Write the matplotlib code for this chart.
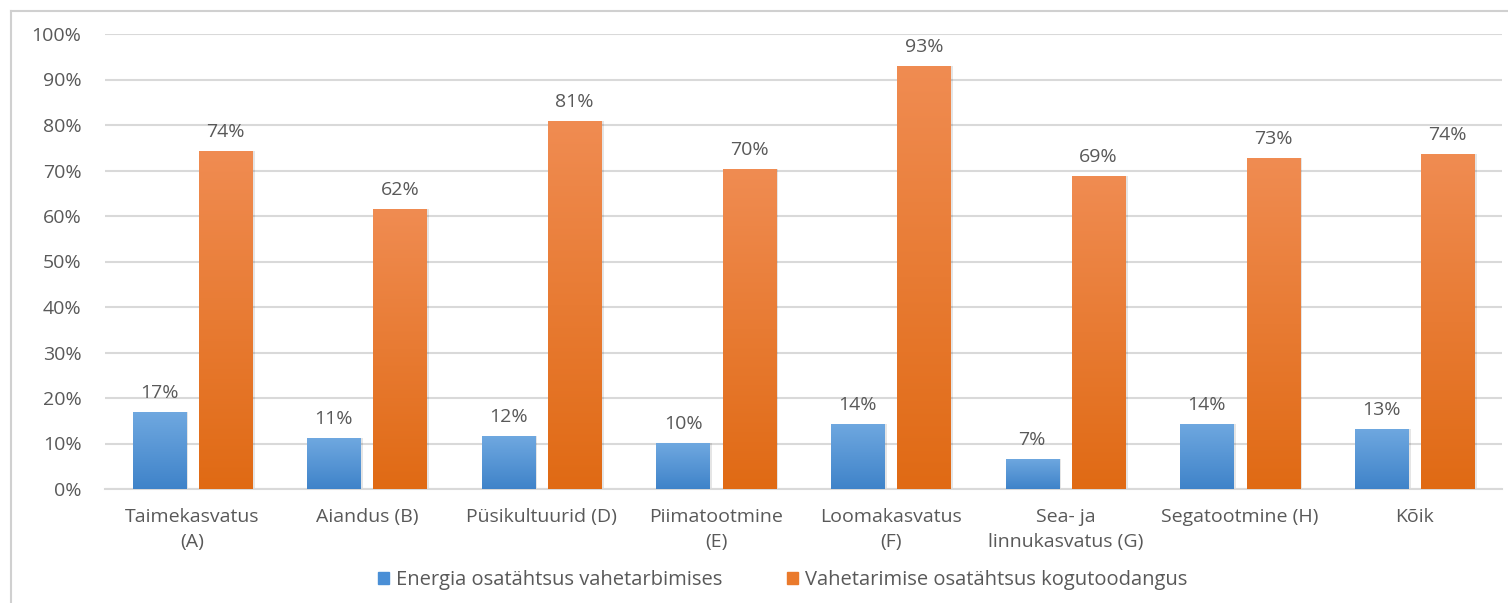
import numpy as np
import matplotlib.pyplot as plt
from matplotlib.lines import Line2D
from matplotlib.colors import LinearSegmentedColormap

# Data (shares, %)
categories = ['Taimekasvatus\n(A)', 'Aiandus (B)', 'Püsikultuurid (D)', 'Piimatootmine\n(E)',
              'Loomakasvatus\n(F)', 'Sea- ja\nlinnukasvatus (G)', 'Segatootmine (H)', 'Kõik']
energia = [16.9, 11.2, 11.6, 10.1, 14.3, 6.6, 14.3, 13.2]
vahetarbimine = [74.3, 61.6, 80.9, 70.3, 93.0, 68.8, 72.7, 73.6]
series_names = ['Energia osatähtsus vahetarbimises', 'Vahetarimise osatähtsus kogutoodangus']
yticks = [0, 10, 20, 30, 40, 50, 60, 70, 80, 90, 100]

plt.rcParams['font.family'] = ['Open Sans', 'DejaVu Sans']
text_col = '#595959'

fig = plt.figure(figsize=(15.08, 6.03), dpi=100)
ax = fig.add_axes([105/1508, 1 - 489/603, 1397/1508, 455/603])

x = np.arange(len(categories))
w = 0.305
off = 0.19

blue_cmap = LinearSegmentedColormap.from_list('b', ['#3f83c9', '#6fa8e0'])
orange_cmap = LinearSegmentedColormap.from_list('o', ['#e06a14', '#f08c52'])
grad = np.linspace(0, 1, 256).reshape(-1, 1)

def gradient_bars(xs, vals, cmap):
    bars = ax.bar(xs, vals, w, color='none', zorder=3)
    for b in bars:
        bx, by = b.get_x(), b.get_y()
        bw, bh = b.get_width(), b.get_height()
        # soft shadow
        ax.bar(bx + bw/2 + 0.008, bh, bw + 0.012, bottom=0, color='#000000', alpha=0.10, zorder=2)
        im = ax.imshow(grad, cmap=cmap, aspect='auto', origin='lower',
                       extent=[bx, bx + bw, by, by + bh], zorder=3)
        im.set_clip_path(b)
    return bars

b1 = gradient_bars(x - off, energia, blue_cmap)
b2 = gradient_bars(x + off, vahetarbimine, orange_cmap)

for xs, vals in [(x - off, energia), (x + off, vahetarbimine)]:
    for xi, v in zip(xs, vals):
        ax.text(xi, v + 2.2, f'{round(v):.0f}%', ha='center', va='bottom',
                fontsize=14, color=text_col)

ax.set_xlim(-0.5, len(categories) - 0.5)
ax.set_ylim(0, 100)
ax.set_yticks(yticks)
ax.set_yticklabels([f'{t}%' for t in yticks], fontsize=14, color=text_col)
ax.set_xticks(x)
ax.set_xticklabels(categories, fontsize=14, color=text_col, linespacing=1.45)
ax.tick_params(axis='both', length=0)
ax.tick_params(axis='y', pad=17)
ax.tick_params(axis='x', pad=14)
ax.grid(axis='y', color='#d9d9d9', linewidth=1.5, zorder=0)
ax.set_axisbelow(True)
for s in ['top', 'right', 'left']:
    ax.spines[s].set_visible(False)
ax.spines['bottom'].set_color('#d9d9d9')
ax.spines['bottom'].set_linewidth(1.5)

# legend
handles = [plt.Rectangle((0, 0), 1, 1, color='#4a8fd6'), plt.Rectangle((0, 0), 1, 1, color='#ea7a2c')]
fig.legend(handles, series_names, loc='center', bbox_to_anchor=(783/1508, 1 - 580/603),
           ncol=2, frameon=False, fontsize=14.5, handlelength=0.55, handleheight=0.55,
           handletextpad=0.35, columnspacing=3.2, labelcolor=text_col)

# outer chart frame
fig.add_artist(Line2D([11/1508, 11/1508], [0, 1 - 11/603], color='#d0d0d0', lw=1.5))
fig.add_artist(Line2D([11/1508, 1], [1 - 11/603, 1 - 11/603], color='#d0d0d0', lw=1.5))

fig.savefig('out.png', dpi=100)
